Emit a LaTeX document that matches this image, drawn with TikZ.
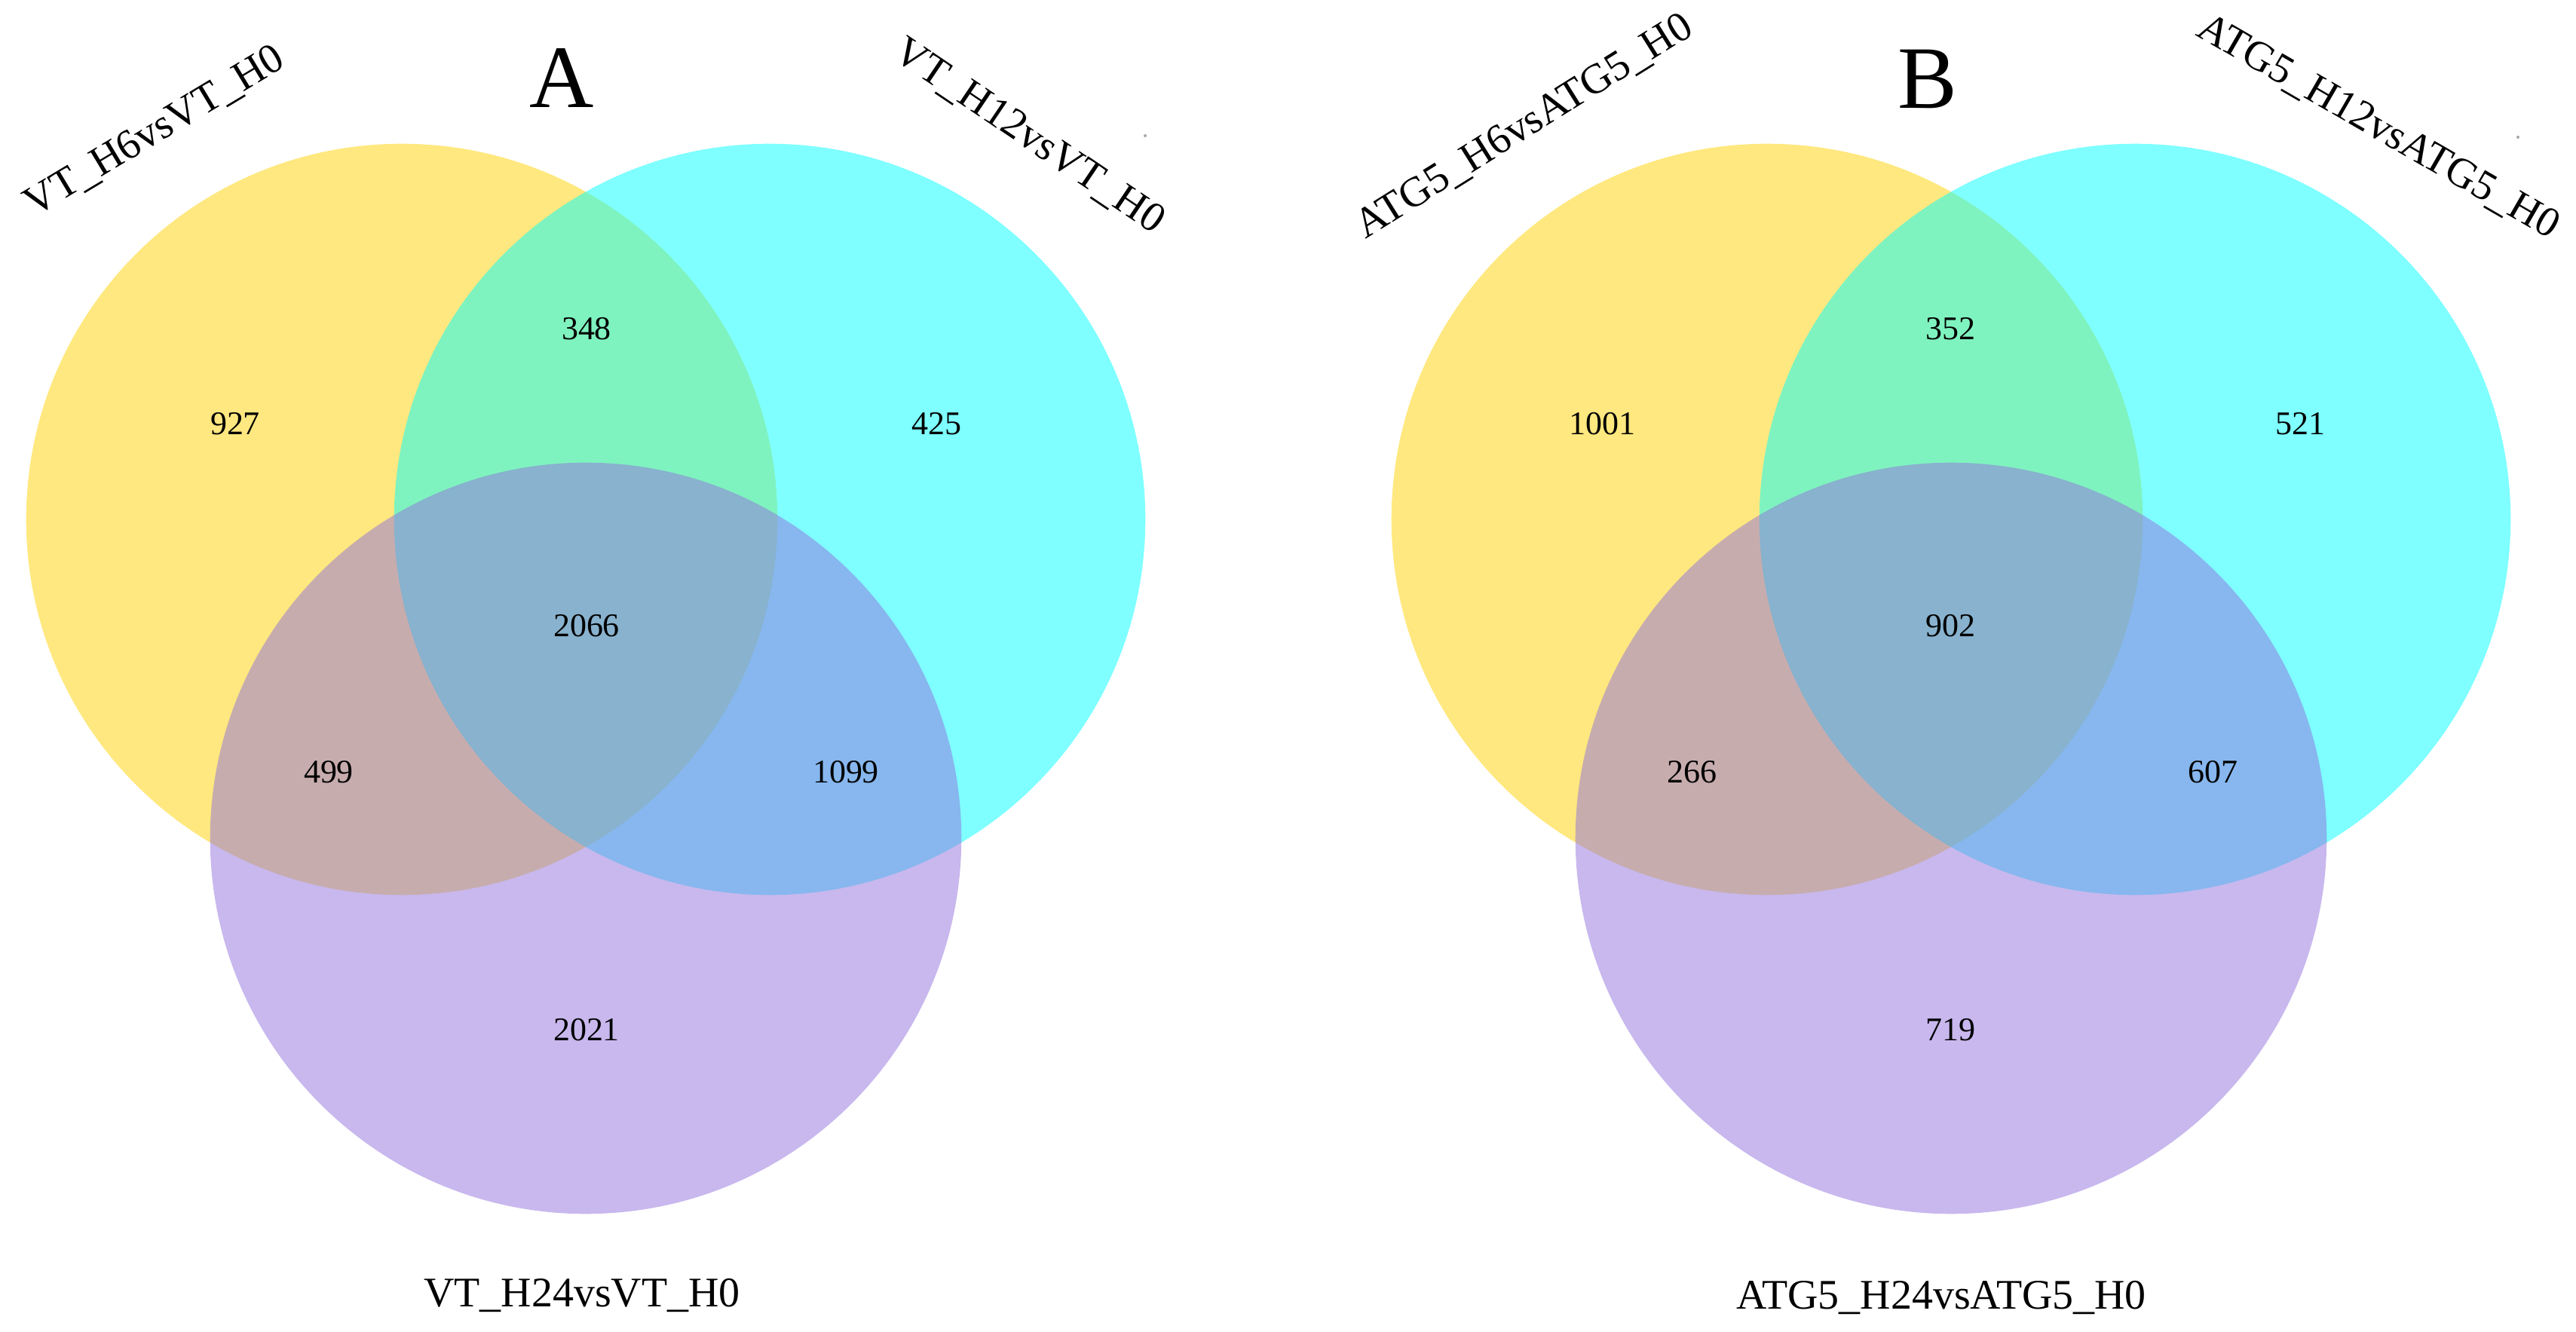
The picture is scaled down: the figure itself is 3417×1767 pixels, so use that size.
\documentclass[tikz,border=0pt]{standalone}
\usepackage{fontspec}
\setmainfont{Liberation Serif}
\definecolor{vyellow}{RGB}{255,209,0}
\definecolor{vcyan}{RGB}{0,255,255}
\definecolor{vpurple}{RGB}{145,113,221}
\tikzset{
  setfill/.style={fill=#1, fill opacity=0.5},
  num/.style={font=\fontsize{12.5pt}{15pt}\selectfont, text=black},
  lab/.style={font=\fontsize{15.9pt}{19pt}\selectfont, anchor=mid, inner sep=0pt},
  botlab/.style={font=\fontsize{15.9pt}{19pt}\selectfont, anchor=base, inner sep=0pt},
  panel/.style={font=\fontsize{33.6pt}{40pt}\selectfont},
  speck/.style={fill=gray!70}
}
\begin{document}
\begin{tikzpicture}[x=0.01cm, y=-0.01cm]
\useasboundingbox (0,0) rectangle (3417,1767);
% Panel A
\fill[setfill=vyellow] (533,689) circle[radius=4.98cm];
\fill[setfill=vcyan] (1021,689) circle[radius=4.98cm];
\fill[setfill=vpurple] (777,1112) circle[radius=4.98cm];
\node[num] (a1) at (312,562) {927};
\node[num] (a2) at (778,436) {348};
\node[num] (a3) at (1242,562) {425};
\node[num] (a4) at (778,830) {2066};
\node[num] (a5) at (436,1024) {499};
\node[num] (a6) at (1122,1024) {1099};
\node[num] (a7) at (778,1366) {2021};
\node[lab, rotate=31] (la1) at (209,181) {VT\_H6vsVT\_H0};
\node[lab, rotate=-34] (la2) at (1361,187) {VT\_H12vsVT\_H0};
\node[botlab] (la3) at (772,1733) {VT\_H24vsVT\_H0};
\node[panel] (pa) at (745,104) {A};
\fill[speck] (1519,180) circle[radius=0.02cm];
% Panel B
\fill[setfill=vyellow] (2344,689) circle[radius=4.98cm];
\fill[setfill=vcyan] (2832,689) circle[radius=4.98cm];
\fill[setfill=vpurple] (2588,1112) circle[radius=4.98cm];
\node[num] (b1) at (2125,562) {1001};
\node[num] (b2) at (2587,436) {352};
\node[num] (b3) at (3051,562) {521};
\node[num] (b4) at (2587,830) {902};
\node[num] (b5) at (2244,1024) {266};
\node[num] (b6) at (2935,1024) {607};
\node[num] (b7) at (2587,1366) {719};
\node[lab, rotate=32] (lb1) at (2026,174) {ATG5\_H6vsATG5\_H0};
\node[lab, rotate=-30] (lb2) at (3151,175) {ATG5\_H12vsATG5\_H0};
\node[botlab] (lb3) at (2575,1736) {ATG5\_H24vsATG5\_H0};
\node[panel] (pb) at (2557,105) {B};
\fill[speck] (3340,182) circle[radius=0.02cm];
\end{tikzpicture}
\end{document}
